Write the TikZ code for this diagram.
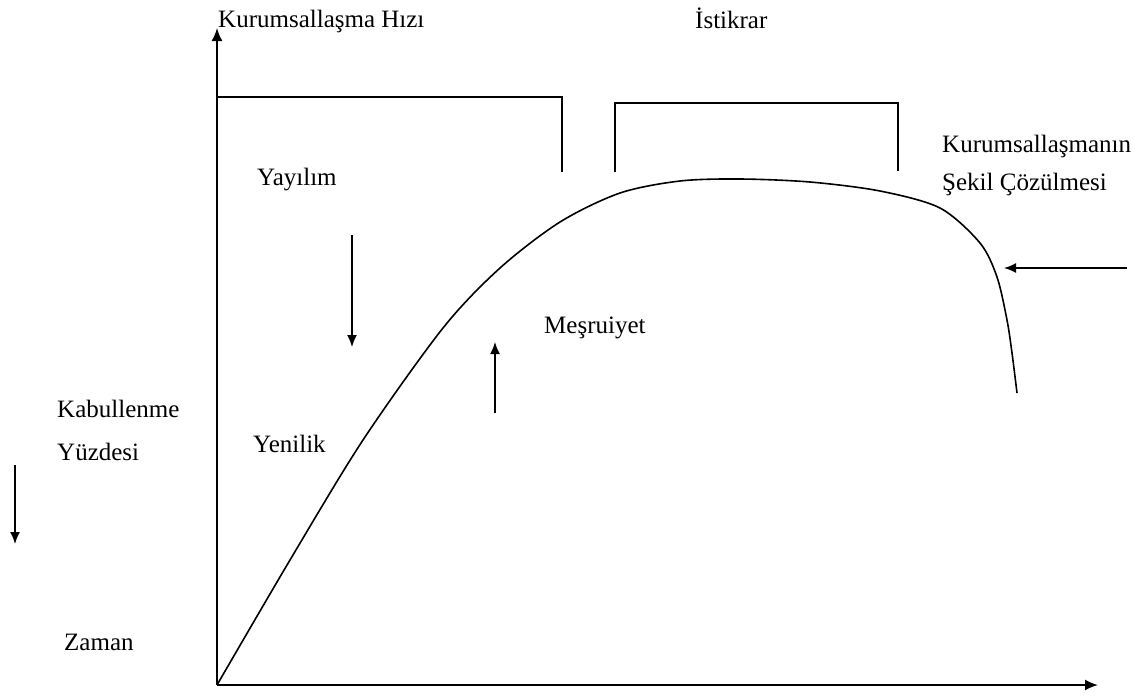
\documentclass[tikz,border=0pt]{standalone}
\usepackage{fontspec}
\setmainfont{Liberation Serif}
\usetikzlibrary{arrows.meta}
\begin{document}
\begin{tikzpicture}[x=1pt,y=-1pt,
  lbl/.style={anchor=base west,inner sep=0pt,font=\fontsize{25}{28}\selectfont},
  axis/.style={line width=1.9pt,-{Latex[length=13pt,width=11pt]}},
  arr/.style={line width=1.6pt,-{Latex[length=12pt,width=10pt]}},
  brk/.style={line width=1.5pt},
  crv/.style={line width=1.6pt}]
\useasboundingbox (0,0) rectangle (1135,697);
% axes
\coordinate (O) at (217,685);
\coordinate (Ytop) at (217,28);
\coordinate (Xend) at (1098,685);
\draw[axis] (O) -- (Ytop);
\draw[axis] (O) -- (Xend);
% brackets
\coordinate (b1l) at (217,97);
\coordinate (b1r) at (562,97);
\coordinate (b1d) at (562,172);
\draw[brk] (b1l) -- (b1r) -- (b1d);
\coordinate (b2a) at (615,172);
\coordinate (b2b) at (615,103);
\coordinate (b2c) at (898,103);
\coordinate (b2d) at (898,171);
\draw[brk] (b2a) -- (b2b) -- (b2c) -- (b2d);
% curve
\draw[crv] plot[smooth,tension=0.5] coordinates {(217,685) (290,560) (363,440) (443,328) (500,268) (560,222) (620,193) (680,181) (740,179) (810,182) (880,191) (940,208) (980,243) (997,277) (1007,320) (1012,353) (1017,393)};
% labels
\node[lbl] (kh) at (218,27) {Kurumsallaşma Hızı};
\node[lbl] (ist) at (695,28) {İstikrar};
\node[lbl] (yay) at (257,185) {Yayılım};
\node[lbl] (kur) at (942,152) {Kurumsallaşmanın};
\node[lbl] (sek) at (942,190) {Şekil Çözülmesi};
\node[lbl] (mes) at (544,333) {Meşruiyet};
\node[lbl] (kab) at (57,417) {Kabullenme};
\node[lbl] (yuz) at (57,460) {Yüzdesi};
\node[lbl] (yen) at (253,452) {Yenilik};
\node[lbl] (zam) at (64,650) {Zaman};
% arrows
\coordinate (a1s) at (352,235);
\coordinate (a1e) at (352,347);
\draw[arr] (a1s) -- (a1e);
\coordinate (a2s) at (495,413);
\coordinate (a2e) at (495,342);
\draw[arr] (a2s) -- (a2e);
\coordinate (a3s) at (1127,268);
\coordinate (a3e) at (1004,268);
\draw[arr] (a3s) -- (a3e);
\coordinate (a4s) at (15,465);
\coordinate (a4e) at (15,544);
\draw[arr] (a4s) -- (a4e);
\end{tikzpicture}
\end{document}
